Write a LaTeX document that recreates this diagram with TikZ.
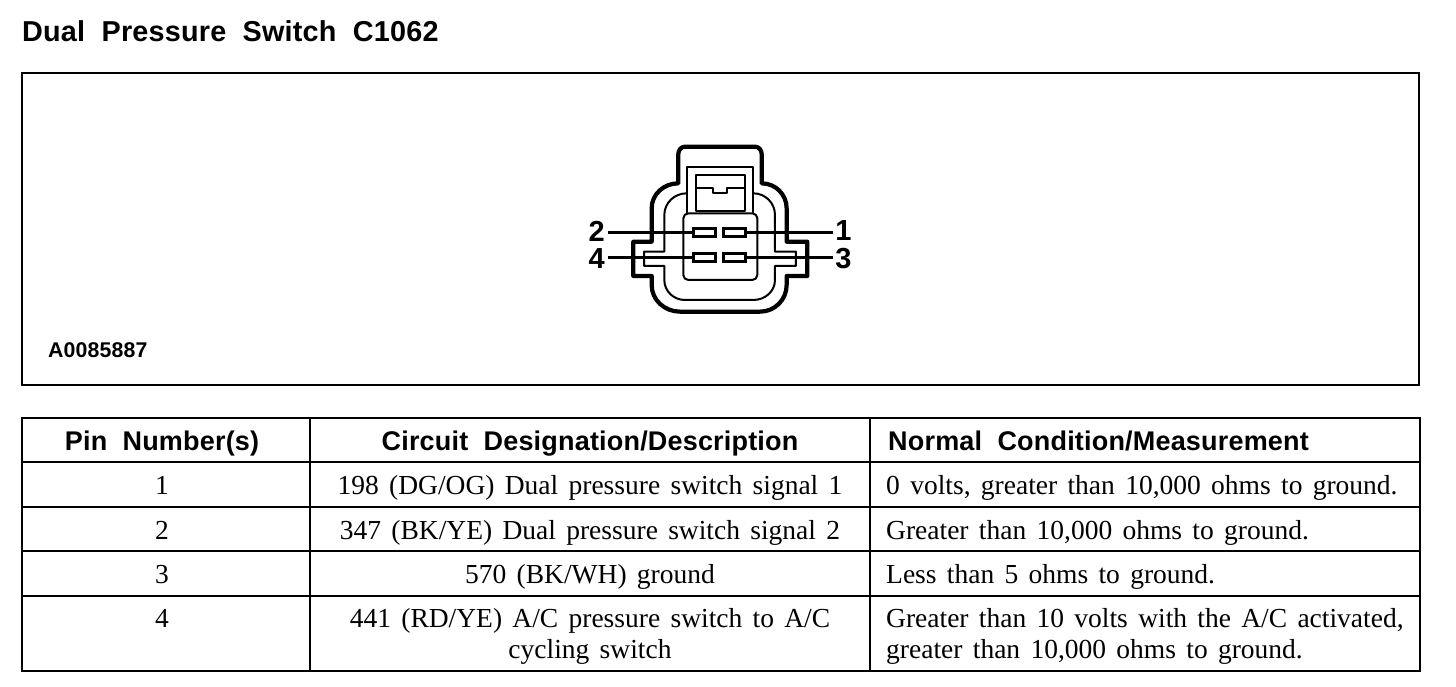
\documentclass[tikz,border=0pt]{standalone}
\usepackage{fontspec}
\setmainfont{Liberation Serif}[WordSpace=1.5]
\setsansfont{Liberation Sans}[LetterSpace=0.7,WordSpace=2]
\tikzset{
 frameline/.style={black,line width=2pt},
 cellrule/.style={black,line width=1.6pt},
 heavyrule/.style={black,line width=2.4pt},
 outerline/.style={black,line width=4.2pt,line join=round},
 innerline/.style={black,line width=2pt,line join=round},
 pinbox/.style={draw=black,line width=2.6pt,fill=white,minimum width=22pt,minimum height=8pt,inner sep=0pt},
 pinlabel/.style={font=\sffamily\bfseries\fontsize{29}{29}\selectfont,inner sep=0pt,anchor=center},
 leadthick/.style={black,line width=3.6pt},
 leadthin/.style={black,line width=2.8pt},
 titletext/.style={font=\sffamily\bfseries\fontsize{28.8}{31}\selectfont,inner sep=0pt,anchor=base west},
 headtext/.style={font=\sffamily\bfseries\fontsize{27}{30}\selectfont,inner sep=0pt,anchor=base},
 bodytext/.style={font=\fontsize{27.5}{31}\selectfont,inner sep=0pt,anchor=base},
 bodyleft/.style={bodytext,anchor=base west},
 twoline/.style={font=\fontsize{27.5}{31}\selectfont,inner sep=0pt,align=center,anchor=north},
 twoleft/.style={font=\fontsize{27.5}{31}\selectfont,inner sep=0pt,align=left,anchor=north west}
}
\begin{document}
\begin{tikzpicture}[x=1pt,y=-1pt]
 \useasboundingbox (0,0) rectangle (1456,686);
 \node[titletext] (title) at (22,41) {Dual Pressure Switch C1062};
 \draw[frameline] (22,73) rectangle (1419,385);
 \node[font=\sffamily\bfseries\fontsize{21.3}{24}\selectfont,inner sep=0pt,anchor=base west] (artcode) at (48,357) {A0085887};
 % connector view
 \begin{scope}[shift={(570,130)},x=0.3333pt,y=-0.3333pt]
  \draw[outerline] (345,50)--(555,50) to[out=0,in=90] (575,72)--(575,160) to[out=0,in=90] (650,235)--(650,335)--(712,335)--(712,438)--(650,438)--(650,465) to[out=-90,in=0] (570,545)--(330,545) to[out=180,in=-90] (245,465)--(245,438)--(190,438)--(190,335)--(245,335)--(245,235) to[out=90,in=180] (325,160)--(325,72) to[out=90,in=180] (345,50)--cycle;
  \draw[innerline] (350,250)--(350,110)--(550,110)--(550,250);
  \draw[innerline] (378,243)--(378,135)--(525,135)--(525,243)--cycle;
  \draw[innerline] (378,175)--(428,175)--(428,190)--(470,190)--(470,175)--(525,175);
  \draw[innerline] (350,190) to[out=180,in=90] (283,255)--(283,365)--(222,365)--(222,408)--(283,408)--(283,450) to[out=-90,in=180] (345,510)--(550,510) to[out=0,in=-90] (615,450)--(615,408)--(678,408)--(678,365)--(615,365)--(615,255) to[out=90,in=0] (550,190);
  \draw[innerline,fill=white,rounded corners=5pt] (340,250) rectangle (562,450);
  \node[pinbox] (pinB) at (403,307) {};
  \node[pinbox] (pinA) at (494,307) {};
  \node[pinbox] (pinD) at (403,383) {};
  \node[pinbox] (pinC) at (494,383) {};
  \node[pinlabel] (labB) at (80,303) {2};
  \node[pinlabel] (labA) at (820,303) {1};
  \node[pinlabel] (labD) at (80,385) {4};
  \node[pinlabel] (labC) at (820,385) {3};
  \coordinate (endB) at (115,307);
  \coordinate (endA) at (790,307);
  \coordinate (endD) at (115,383);
  \coordinate (endC) at (790,383);
  \draw[leadthick] (endB) -- (pinB.west);
  \draw[leadthick] (endA) -- (pinA.east);
  \draw[leadthin] (endD) -- (pinD.west);
  \draw[leadthin] (endC) -- (pinC.east);
 \end{scope}
 % table
 \draw[frameline] (22,418) rectangle (1420,671);
 \draw[frameline] (310,418)--(310,671);
 \draw[frameline] (870,418)--(870,671);
 \draw[cellrule] (22,462)--(1420,462);
 \draw[heavyrule] (22,507)--(1420,507);
 \draw[heavyrule] (22,551)--(1420,551);
 \draw[cellrule] (22,596)--(1420,596);
 \node[headtext] (headpin) at (162,450) {Pin Number(s)};
 \node[headtext] (headcir) at (590,450) {Circuit Designation/Description};
 \node[headtext,anchor=base west] (headnor) at (888,450) {Normal Condition/Measurement};
 \node[bodytext] (pinone) at (162,494) {1};
 \node[bodytext] (cirone) at (590,494) {198 (DG/OG) Dual pressure switch signal 1};
 \node[bodyleft] (norone) at (886,494) {0 volts, greater than 10,000 ohms to ground.};
 \node[bodytext] (pintwo) at (162,539) {2};
 \node[bodytext] (cirtwo) at (590,539) {347 (BK/YE) Dual pressure switch signal 2};
 \node[bodyleft] (nortwo) at (886,539) {Greater than 10,000 ohms to ground.};
 \node[bodytext] (pinthree) at (162,583) {3};
 \node[bodytext] (cirthree) at (590,583) {570 (BK/WH) ground};
 \node[bodyleft] (northree) at (886,583) {Less than 5 ohms to ground.};
 \node[bodytext] (pinfour) at (162,627) {4};
 \node[twoline] (cirfour) at (590,608) {441 (RD/YE) A/C pressure switch to A/C\\cycling switch};
 \node[twoleft] (norfour) at (886,608) {Greater than 10 volts with the A/C activated,\\greater than 10,000 ohms to ground.};
\end{tikzpicture}
\end{document}
